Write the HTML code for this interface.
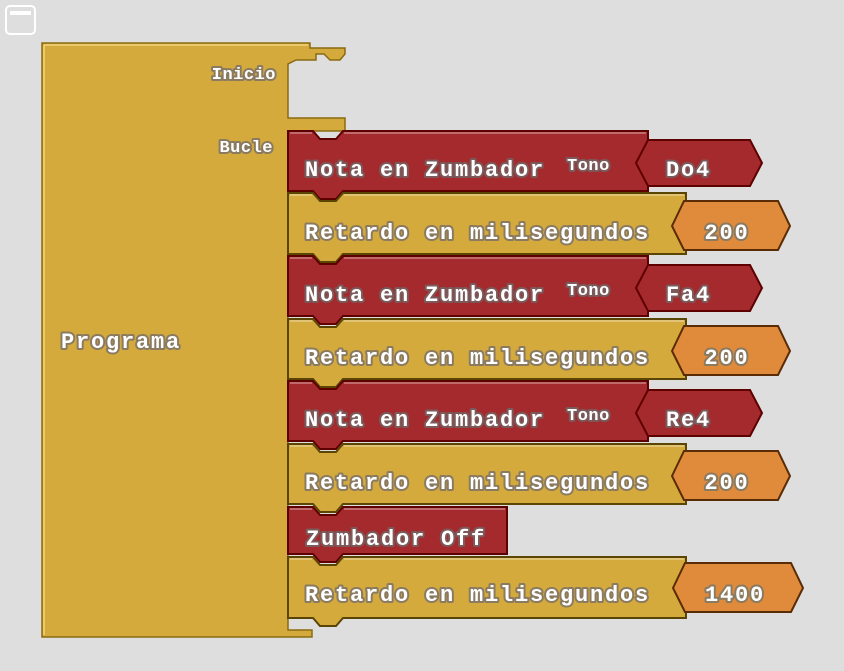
<!DOCTYPE html>
<html><head><meta charset="utf-8"><style>
html,body{margin:0;padding:0;background:#dedede;width:844px;height:671px;overflow:hidden}
svg text{font-family:"Liberation Mono",monospace;font-weight:bold;fill:#fff;stroke:#8a7a60;stroke-width:4px;paint-order:stroke;stroke-linejoin:round}
.t{font-size:22px;letter-spacing:1.8px}
.s{font-size:17px;letter-spacing:0.5px}
.rt{stroke:#7a5a5a}
</style></head><body>
<svg width="844" height="671" viewBox="0 0 844 671" xmlns="http://www.w3.org/2000/svg">
<rect x="6" y="6" width="29" height="28" rx="4" fill="none" stroke="#fff" stroke-width="2"/>
<rect x="10" y="11" width="21" height="4" fill="#fff"/>
<path d="M42,43 H310 V48 H345 V54 L340,60 H330 L324,54 H316 V60 H296 L288,64 V118 H345 V131 H296 L288,134 V630 H312 V637 H42 Z" fill="#d4aa3c" stroke="#8a6a10" stroke-width="1.5"/>
<path d="M44,45 H308 M44,45 V635" stroke="#ecc96a" stroke-width="2" fill="none"/>
<text class="s" x="276" y="79" text-anchor="end">Inicio</text>
<text class="s" x="273" y="152" text-anchor="end">Bucle</text>
<text class="t" x="61" y="348">Programa</text>

<g stroke-width="2">
<path d="M288,131 H313 L320,139 H336 L343,131 H648 V191 H343 L336,199 H320 L313,191 H288 Z" fill="#a52a2d" stroke="#5e0000"/>
<path d="M288,193 H313 L320,201 H336 L343,193 H686 V254 H343 L336,262 H320 L313,254 H288 Z" fill="#d4aa3c" stroke="#5a4505"/>
<path d="M288,256 H313 L320,264 H336 L343,256 H648 V316 H343 L336,324 H320 L313,316 H288 Z" fill="#a52a2d" stroke="#5e0000"/>
<path d="M288,319 H313 L320,327 H336 L343,319 H686 V379 H343 L336,387 H320 L313,379 H288 Z" fill="#d4aa3c" stroke="#5a4505"/>
<path d="M288,381 H313 L320,389 H336 L343,381 H648 V441 H343 L336,449 H320 L313,441 H288 Z" fill="#a52a2d" stroke="#5e0000"/>
<path d="M288,444 H313 L320,452 H336 L343,444 H686 V504 H343 L336,512 H320 L313,504 H288 Z" fill="#d4aa3c" stroke="#5a4505"/>
<path d="M288,507 H313 L320,515 H336 L343,507 H507 V554 H343 L336,562 H320 L313,554 H288 Z" fill="#a52a2d" stroke="#5e0000"/>
<path d="M288,557 H313 L320,565 H336 L343,557 H686 V618 H343 L336,626 H320 L313,618 H288 Z" fill="#d4aa3c" stroke="#5a4505"/>

<polygon points="636,163 648,140 750,140 762,163 750,186 648,186" fill="#a52a2d" stroke="#5e0000"/>
<polygon points="636,288 648,265 750,265 762,288 750,311 648,311" fill="#a52a2d" stroke="#5e0000"/>
<polygon points="636,413 648,390 750,390 762,413 750,436 648,436" fill="#a52a2d" stroke="#5e0000"/>
<polygon points="672,226 684,201 778,201 790,226 778,250 684,250" fill="#e08a3c" stroke="#5a2c05"/>
<polygon points="672,351 684,326 778,326 790,351 778,375 684,375" fill="#e08a3c" stroke="#5a2c05"/>
<polygon points="672,476 684,451 778,451 790,476 778,500 684,500" fill="#e08a3c" stroke="#5a2c05"/>
<polygon points="673,588 685,563 791,563 803,588 791,612 685,612" fill="#e08a3c" stroke="#5a2c05"/>
</g>
<g stroke-width="2" fill="none">
<path d="M290,133 H312 M344,133 H646 M290,195 H312 M344,195 H684 M290,258 H312 M344,258 H646 M290,321 H312 M344,321 H684 M290,383 H312 M344,383 H646 M290,446 H312 M344,446 H684 M290,509 H312 M344,509 H505 M290,559 H312 M344,559 H684" stroke="#ffffff" stroke-opacity="0.3"/>
</g>

<text class="t rt" x="305" y="176">Nota en Zumbador</text>
<text class="s rt" x="567" y="170">Tono</text>
<text class="t rt" x="666" y="176">Do4</text>
<text class="t rt" x="305" y="301">Nota en Zumbador</text>
<text class="s rt" x="567" y="295">Tono</text>
<text class="t rt" x="666" y="301">Fa4</text>
<text class="t rt" x="305" y="426">Nota en Zumbador</text>
<text class="s rt" x="567" y="420">Tono</text>
<text class="t rt" x="666" y="426">Re4</text>
<text class="t rt" x="306" y="545">Zumbador Off</text>
<text class="t" x="305" y="239">Retardo en milisegundos</text>
<text class="t" x="305" y="364">Retardo en milisegundos</text>
<text class="t" x="305" y="489">Retardo en milisegundos</text>
<text class="t" x="305" y="601">Retardo en milisegundos</text>
<text class="t" x="727" y="239" text-anchor="middle">200</text>
<text class="t" x="727" y="364" text-anchor="middle">200</text>
<text class="t" x="727" y="489" text-anchor="middle">200</text>
<text class="t" x="735" y="601" text-anchor="middle">1400</text>
</svg>
</body></html>
